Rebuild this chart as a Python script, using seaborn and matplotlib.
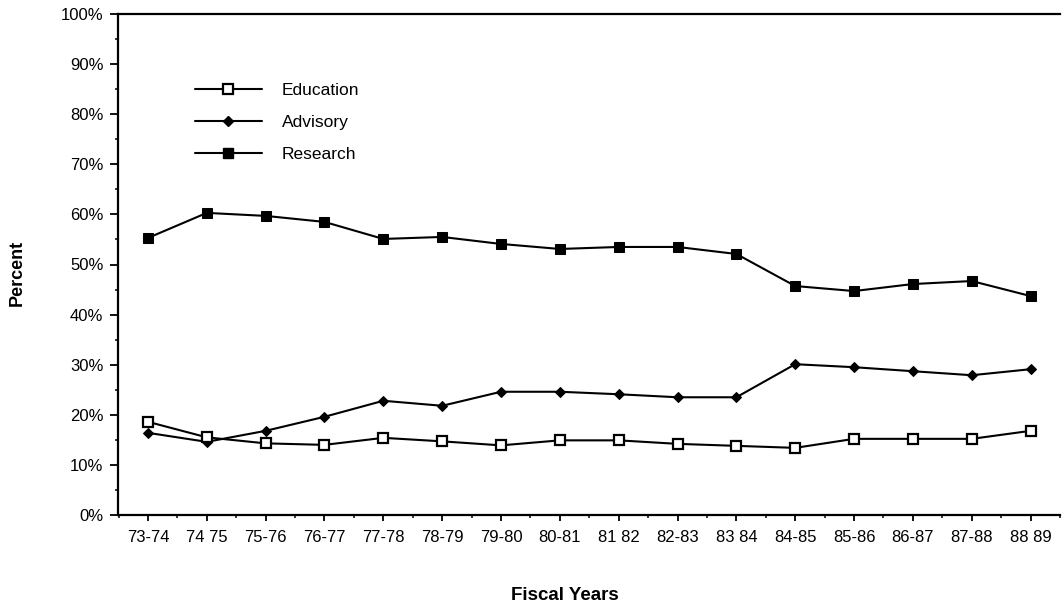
import numpy as np
import pandas as pd
import matplotlib
matplotlib.use("Agg")
import matplotlib.pyplot as plt
from matplotlib.ticker import MultipleLocator, FuncFormatter
from matplotlib.lines import Line2D
import seaborn as sns

years = ["73-74", "74 75", "75-76", "76-77", "77-78", "78-79", "79-80", "80-81",
         "81 82", "82-83", "83 84", "84-85", "85-86", "86-87", "87-88", "88 89"]
education = [18.6, 15.5, 14.3, 14.0, 15.4, 14.7, 13.9, 14.9,
             14.9, 14.2, 13.8, 13.4, 15.2, 15.2, 15.2, 16.8]
advisory = [16.4, 14.6, 16.8, 19.6, 22.8, 21.8, 24.6, 24.6,
            24.1, 23.5, 23.5, 30.1, 29.5, 28.7, 27.9, 29.1]
research = [55.3, 60.3, 59.7, 58.5, 55.1, 55.5, 54.1, 53.1,
            53.5, 53.5, 52.1, 45.7, 44.7, 46.1, 46.7, 43.7]
series_names = ["Education", "Advisory", "Research"]

rows = []
for name, vals in zip(series_names, [education, advisory, research]):
    for i, v in enumerate(vals):
        rows.append({"idx": i, "Percent": v, "Series": name})
df = pd.DataFrame(rows)

sns.set_theme(style="white")
plt.rcParams["font.family"] = ["Liberation Sans", "DejaVu Sans"]
for k in ["text.color", "axes.labelcolor", "xtick.color", "ytick.color", "axes.edgecolor"]:
    plt.rcParams[k] = "black"

fig = plt.figure(figsize=(10.62, 6.04), dpi=100)
ax = fig.add_axes([118/1062, 1 - 515/604, (1060-118)/1062, (515-14)/604])

sns.lineplot(data=df, x="idx", y="Percent", hue="Series", style="Series",
             palette={"Education": "black", "Advisory": "black", "Research": "black"},
             markers={"Education": "s", "Advisory": "D", "Research": "s"},
             dashes=False, linewidth=1.5, markersize=7, legend=False, ax=ax)

lines = ax.lines
if len(lines) >= 3:
    lines[0].set_markerfacecolor("white"); lines[0].set_markeredgecolor("black")
    lines[0].set_markeredgewidth(1.6); lines[0].set_markersize(7.5)
    lines[1].set_markerfacecolor("black"); lines[1].set_markeredgecolor("black")
    lines[1].set_markersize(5.5)
    lines[2].set_markerfacecolor("black"); lines[2].set_markeredgecolor("black")
    lines[2].set_markersize(6.5)
    lines[2].set_zorder(3); lines[1].set_zorder(4); lines[0].set_zorder(5)

ax.set_xlim(-0.509, 15.46)
ax.set_ylim(0, 100)
ax.set_xticks(range(len(years)))
ax.set_xticklabels(years, fontsize=12)
ax.set_xticks(np.arange(-0.5, 15.6, 1.0), minor=True)
ax.yaxis.set_major_locator(MultipleLocator(10))
ax.yaxis.set_minor_locator(MultipleLocator(5))
ax.yaxis.set_major_formatter(FuncFormatter(lambda v, p: f"{int(round(v))}%"))
ax.tick_params(axis="y", labelsize=12)

ax.tick_params(axis="x", which="major", direction="out", length=4, width=1.3,
               bottom=True, pad=6.5)
ax.tick_params(axis="x", which="minor", direction="out", length=2.5, width=1.1,
               bottom=True)
ax.tick_params(axis="y", which="major", direction="out", length=5.5, width=1.3,
               left=True, pad=5)
ax.tick_params(axis="y", which="minor", direction="out", length=2.5, width=1.1,
               left=True)

for s in ["left", "bottom", "top"]:
    ax.spines[s].set_visible(True)
    ax.spines[s].set_color("black")
    ax.spines[s].set_linewidth(1.6)
ax.spines["right"].set_visible(False)

ax.set_xlabel("Fiscal Years", fontsize=13.5, fontweight="bold")
ax.set_ylabel("Percent", fontsize=13, fontweight="bold")
ax.xaxis.set_label_coords((565 - 118) / 942, -(587 - 515) / 501)
ax.yaxis.set_label_coords((26 - 118) / 942, (515 - 273) / 501)

handles = [
    Line2D([], [], color="black", lw=1.5, marker="s", markerfacecolor="white",
           markeredgecolor="black", markeredgewidth=1.6, markersize=7.5),
    Line2D([], [], color="black", lw=1.5, marker="D", markerfacecolor="black",
           markersize=5.5),
    Line2D([], [], color="black", lw=1.5, marker="s", markerfacecolor="black",
           markersize=6.5),
]
leg = ax.legend(handles, series_names, loc="upper left",
                bbox_to_anchor=((195 - 118) / 942, 1 - (83 - 14) / 501),
                frameon=False, fontsize=12.5, borderpad=0, borderaxespad=0,
                handlelength=3.85, handletextpad=1.15, labelspacing=0.98)

fig.savefig("out.png", dpi=100)
